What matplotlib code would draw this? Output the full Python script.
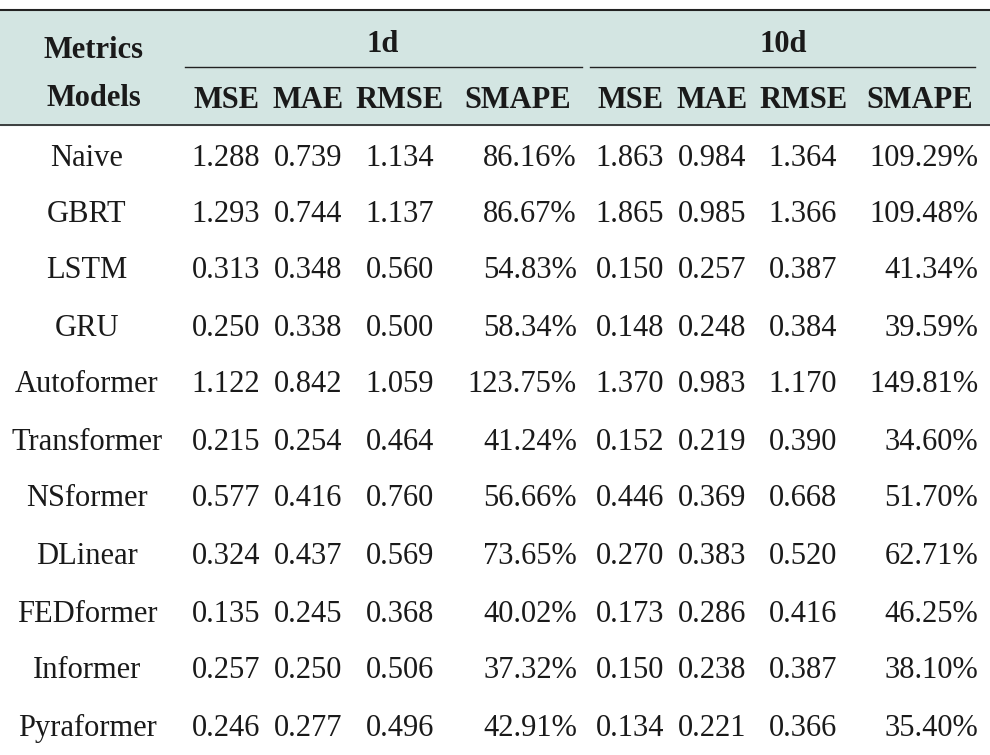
import matplotlib
matplotlib.use("Agg")
import matplotlib.pyplot as plt

models = ["Naive","GBRT","LSTM","GRU","Autoformer","Transformer","NSformer","DLinear","FEDformer","Informer","Pyraformer"]
metrics = ["MSE","MAE","RMSE","SMAPE"]
horizons = ["1d","10d"]
vals_1d = [
 ["1.288","0.739","1.134","86.16%"],["1.293","0.744","1.137","86.67%"],["0.313","0.348","0.560","54.83%"],
 ["0.250","0.338","0.500","58.34%"],["1.122","0.842","1.059","123.75%"],["0.215","0.254","0.464","41.24%"],
 ["0.577","0.416","0.760","56.66%"],["0.324","0.437","0.569","73.65%"],["0.135","0.245","0.368","40.02%"],
 ["0.257","0.250","0.506","37.32%"],["0.246","0.277","0.496","42.91%"]]
vals_10d = [
 ["1.863","0.984","1.364","109.29%"],["1.865","0.985","1.366","109.48%"],["0.150","0.257","0.387","41.34%"],
 ["0.148","0.248","0.384","39.59%"],["1.370","0.983","1.170","149.81%"],["0.152","0.219","0.390","34.60%"],
 ["0.446","0.369","0.668","51.70%"],["0.270","0.383","0.520","62.71%"],["0.173","0.286","0.416","46.25%"],
 ["0.150","0.238","0.387","38.10%"],["0.134","0.221","0.366","35.40%"]]

W, H = 990, 755
fig = plt.figure(figsize=(9.9, 7.55), dpi=100)
ax = fig.add_axes([0, 0, 1, 1])
ax.set_xlim(0, W); ax.set_ylim(H, 0); ax.axis("off")
font = dict(family="Liberation Serif", fontsize=22, color="#1a1a1a")

ax.add_patch(plt.Rectangle((0, 10), W, 115, color="#d3e5e2", zorder=0))
ax.plot([0, W], [10, 10], color="#222", lw=1.5)
ax.plot([0, W], [125, 125], color="#222", lw=1.2)
ax.plot([185, 582], [67, 67], color="#222", lw=1.0)
ax.plot([590, 975], [67, 67], color="#222", lw=1.0)

ax.text(94, 50, "Metrics", ha="center", va="center", fontweight="bold", **font)
ax.text(94, 98, "Models", ha="center", va="center", fontweight="bold", **font)
ax.text(383, 45, horizons[0], ha="center", va="center", fontweight="bold", **font)
ax.text(783, 45, horizons[1], ha="center", va="center", fontweight="bold", **font)

centers = [[226, 308, 400, 518], [630, 712, 803, 920]]
for h in range(2):
    for j, m in enumerate(metrics):
        ax.text(centers[h][j], 100, m, ha="center", va="center", fontweight="bold", **font)

row_y = [158, 214, 271, 328, 385, 442, 499, 557, 614, 671, 728]
smape_right = [577, 978]
for i, name in enumerate(models):
    y = row_y[i]
    ax.text(87, y, name, ha="center", va="center", **font)
    for h, vals in enumerate([vals_1d, vals_10d]):
        for j in range(3):
            ax.text(centers[h][j], y, vals[i][j], ha="center", va="center", **font)
        ax.text(smape_right[h], y, vals[i][3], ha="right", va="center", **font)

fig.savefig("out.png", dpi=100)
